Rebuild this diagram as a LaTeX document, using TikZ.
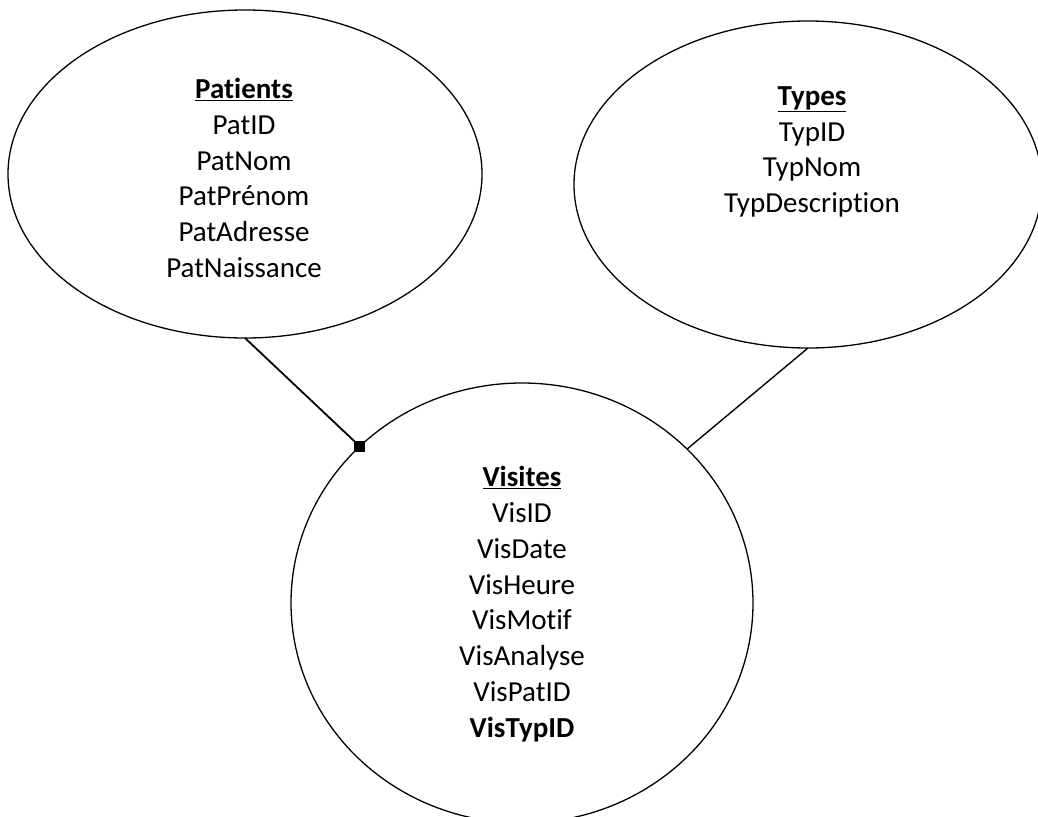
\documentclass[tikz,border=0pt]{standalone}
\usepackage{fontspec}
\setmainfont{Carlito}[Ligatures=NoCommon]
\usetikzlibrary{shapes.geometric}
\tikzset{
  entity/.style={ellipse, draw=black, line width=1.3pt, inner sep=0pt, outer sep=0pt},
  attrs/.style={align=center, font=\fontsize{29}{35.8}\selectfont, inner sep=0pt},
  link/.style={draw=black, line width=1.6pt},
  marker/.style={fill=black, minimum size=11pt, inner sep=0pt, outer sep=0pt}
}
\begin{document}
\begin{tikzpicture}[x=1pt, y=-1pt]
\useasboundingbox (0,0) rectangle (1038,816);
% ellipses
\node[entity, minimum width=474pt, minimum height=328pt] (pat) at (245,174) {};
\node[entity, minimum width=468pt, minimum height=327pt] (typ) at (808,184.5) {};
\node[entity, minimum width=462pt, minimum height=440pt] (vis) at (522,603) {};
% texts
\node[attrs] (patT) at (244,178) {\underline{\textbf{Patients}}\\PatID\\PatNom\\PatPrénom\\PatAdresse\\PatNaissance};
\node[attrs] (typT) at (812,152) {\underline{\textbf{Types}}\\TypID\\TypNom\\TypDescription};
\node[attrs] (visT) at (522,604) {\underline{\textbf{Visites}}\\VisID\\VisDate\\VisHeure\\VisMotif\\VisAnalyse\\VisPatID\\\textbf{VisTypID}};
% connectors
\node[marker] (sq) at (vis.136.4) {};
\draw[link, line width=1.8pt] (pat.south) -- (sq.center);
\draw[link, line width=1.4pt] (typ.south) -- (vis.43.6);
\end{tikzpicture}
\end{document}
